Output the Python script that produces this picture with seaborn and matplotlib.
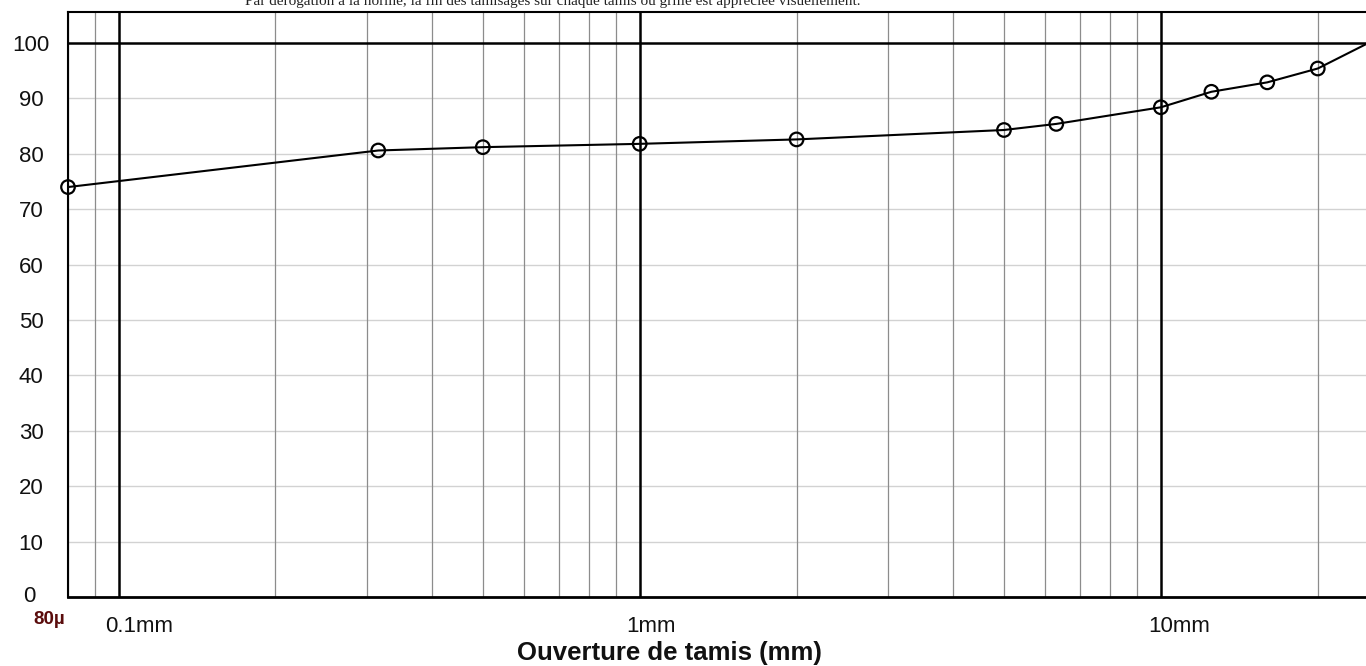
import numpy as np
import pandas as pd
import matplotlib
matplotlib.use("Agg")
import matplotlib.pyplot as plt
import matplotlib.transforms as mtransforms
from matplotlib.ticker import FixedLocator, NullFormatter, NullLocator
import seaborn as sns

# ---- data ----
sieve_mm = [0.08, 0.315, 0.5, 1.0, 2.0, 5.0, 6.3, 10.0, 12.5, 16.0, 20.0, 25.0]
passing_pct = [74.0, 80.6, 81.2, 81.8, 82.6, 84.3, 85.4, 88.4, 91.2, 92.9, 95.4, 100.0]
y_ticks = [0, 10, 20, 30, 40, 50, 60, 70, 80, 90, 100]
x_major = [0.1, 1.0, 10.0]
x_major_labels = ["0.1mm", "1mm", "10mm"]
x_minor = [0.08, 0.09, 0.2, 0.3, 0.4, 0.5, 0.6, 0.7, 0.8, 0.9,
           2, 3, 4, 5, 6, 7, 8, 9, 20]
x_label = "Ouverture de tamis (mm)"
origin_label = "80µ"
header_text = ("Par dérogation à la norme, la fin des tamisages sur chaque tamis "
               "ou grille est appréciée visuellement.")

df = pd.DataFrame({"sieve": sieve_mm, "passing": passing_pct})

sns.set_style("white")
plt.rcParams["font.family"] = ["Liberation Sans", "DejaVu Sans"]

fig = plt.figure(figsize=(13.66, 6.66), dpi=100)
ax = fig.add_axes([68 / 1366, 69 / 666, 1 - 68 / 1366 + 0.001, (597 - 12) / 666])
ax.set_xscale("log")
ax.set_xlim(0.08, 24.9)
ax.set_ylim(0, 105.6)

# grid
for v in x_minor:
    ax.axvline(v, color="#8c8c8c", lw=0.9, zorder=1)
for v in x_major:
    ax.axvline(v, color="black", lw=1.8, zorder=2)
for v in y_ticks[1:-1]:
    ax.axhline(v, color="#d2d2d2", lw=1.0, zorder=0.5)
ax.axhline(100, color="black", lw=1.8, zorder=2)

# curve
sns.lineplot(data=df, x="sieve", y="passing", ax=ax, color="black", lw=1.5,
             zorder=3, legend=False)
sns.scatterplot(data=df.iloc[:-1], x="sieve", y="passing", ax=ax, s=95,
                facecolor="none", edgecolor="black", linewidth=1.6,
                marker="o", zorder=4, clip_on=False, legend=False)

# spines
ax.spines["right"].set_visible(False)
ax.spines["top"].set_linewidth(1.5)
ax.spines["left"].set_linewidth(1.5)
ax.spines["bottom"].set_linewidth(2.0)
for s in ax.spines.values():
    s.set_color("black")

# ticks
ax.yaxis.set_major_locator(FixedLocator(y_ticks))
ax.set_yticklabels([str(t) for t in y_ticks], fontsize=16)
ax.tick_params(axis="y", length=0, pad=(68 - 31) * 0.72, labelcolor="#111111")
for lab in ax.get_yticklabels():
    lab.set_horizontalalignment("center")
zero_lab = ax.get_yticklabels()[0]
zero_lab.set_transform(zero_lab.get_transform() +
                       mtransforms.ScaledTranslation(-2 / 100, 3 / 100, fig.dpi_scale_trans))

ax.xaxis.set_major_locator(FixedLocator(x_major))
ax.xaxis.set_minor_locator(NullLocator())
ax.xaxis.set_minor_formatter(NullFormatter())
ax.set_xticklabels(x_major_labels, fontsize=16)
ax.tick_params(axis="x", length=9, width=1.8, direction="out", pad=5,
               labelcolor="#111111")
offset = mtransforms.ScaledTranslation(-13 / 100, 0, fig.dpi_scale_trans)
for lab in ax.get_xticklabels():
    lab.set_horizontalalignment("left")
    lab.set_transform(lab.get_transform() + offset)

ax.set_xlabel(x_label, fontsize=18.5, fontweight="bold", color="#111111")
ax.set_ylabel("")
ax.xaxis.set_label_coords((669 - 68) / (1366 - 68), -(652 - 597 - 11) / 585)

# 80µ label at the origin
fig.text(49 / 1366, 1 - 619 / 666, origin_label, color="#5a0c0c", fontsize=13.5,
         fontweight="bold", ha="center", va="center")

# partially cut header line (cut at the top edge, as in the reference)
fig.text(245 / 1366, 1 - 5 / 666, header_text, fontsize=11,
         family=["Liberation Serif", "DejaVu Serif"], ha="left",
         va="baseline", color="#222222")

fig.savefig("out.png", dpi=100)
